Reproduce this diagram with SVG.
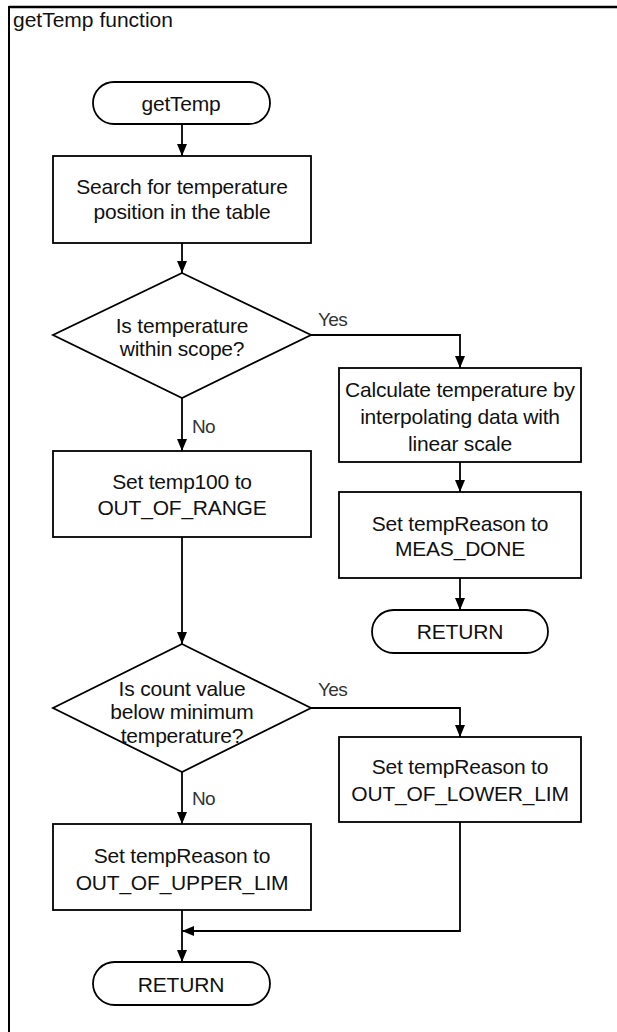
<svg xmlns="http://www.w3.org/2000/svg" width="617" height="1032" viewBox="0 0 617 1032">
<defs>
<marker id="arr" viewBox="0 0 12 12" refX="12" refY="6" markerWidth="12" markerHeight="12" markerUnits="userSpaceOnUse" orient="auto">
<path d="M0,1 L12,6 L0,11 Z" fill="#000"/>
</marker>
<style>
.sh{fill:#fff;stroke:#000;stroke-width:1.8}
.t{font-family:"Liberation Sans",Arial,sans-serif;font-size:21px;fill:#111;text-anchor:middle;dominant-baseline:central;letter-spacing:-0.2px}
.lb{font-family:"Liberation Sans",Arial,sans-serif;font-size:19px;fill:#333;letter-spacing:-0.6px}
.c{fill:none;stroke:#000;stroke-width:1.8}
</style>
</defs>
<rect x="0" y="0" width="617" height="1032" fill="#fff"/>
<rect x="9" y="7" width="640" height="1060" fill="none" stroke="#000" stroke-width="2"/>
<line x1="9" y1="7" x2="617" y2="7" stroke="#000" stroke-width="2.5"/>
<text x="13" y="27" font-family="Liberation Sans, Arial, sans-serif" font-size="21" fill="#111">getTemp  function</text>

<g id="connectors">
<line class="c" x1="182" y1="124" x2="182" y2="156" marker-end="url(#arr)"/>
<line class="c" x1="182" y1="243" x2="182" y2="273" marker-end="url(#arr)"/>
<polyline class="c" points="311,335 460,335 460,368" marker-end="url(#arr)"/>
<line class="c" x1="182" y1="398" x2="182" y2="451" marker-end="url(#arr)"/>
<line class="c" x1="460" y1="462" x2="460" y2="492" marker-end="url(#arr)"/>
<line class="c" x1="460" y1="578" x2="460" y2="610" marker-end="url(#arr)"/>
<line class="c" x1="182" y1="537" x2="182" y2="644" marker-end="url(#arr)"/>
<polyline class="c" points="311,708 460,708 460,737" marker-end="url(#arr)"/>
<line class="c" x1="182" y1="772" x2="182" y2="824" marker-end="url(#arr)"/>
<polyline class="c" points="460,822 460,931 182,931" marker-end="url(#arr)"/>
<line class="c" x1="182" y1="910" x2="182" y2="962" marker-end="url(#arr)"/>
<text class="lb" x="318" y="326">Yes</text>
<text class="lb" x="192" y="433">No</text>
<text class="lb" x="318" y="696">Yes</text>
<text class="lb" x="192" y="805">No</text>
</g>

<g id="start">
<rect class="sh" x="93" y="82" width="177" height="42" rx="21"/>
<text class="t" x="181" y="103">getTemp</text>
</g>
<g id="search">
<rect class="sh" x="53" y="156" width="258" height="87"/>
<text class="t" x="182" y="186">Search for temperature</text>
<text class="t" x="182" y="211">position in the table</text>
</g>
<g id="check1">
<polygon class="sh" points="182,273 311,335 182,398 53,335"/>
<text class="t" x="182" y="325">Is temperature</text>
<text class="t" x="182" y="348">within scope?</text>
</g>
<g id="calc">
<rect class="sh" x="339" y="368" width="242" height="94"/>
<text class="t" x="460" y="389">Calculate temperature by</text>
<text class="t" x="460" y="416">interpolating data with</text>
<text class="t" x="460" y="443">linear scale</text>
</g>
<g id="measdone">
<rect class="sh" x="339" y="492" width="242" height="86"/>
<text class="t" x="460" y="523">Set tempReason to</text>
<text class="t" x="460" y="548">MEAS_DONE</text>
</g>
<g id="return1">
<rect class="sh" x="372" y="610" width="176" height="43" rx="21.5"/>
<text class="t" x="460" y="631">RETURN</text>
</g>
<g id="outofrange">
<rect class="sh" x="53" y="451" width="258" height="86"/>
<text class="t" x="182" y="481">Set temp100 to</text>
<text class="t" x="182" y="507">OUT_OF_RANGE</text>
</g>
<g id="check2">
<polygon class="sh" points="182,644 311,708 182,772 53,708"/>
<text class="t" x="182" y="688">Is count value</text>
<text class="t" x="182" y="711">below minimum</text>
<text class="t" x="182" y="735">temperature?</text>
</g>
<g id="lower">
<rect class="sh" x="339" y="737" width="242" height="85"/>
<text class="t" x="460" y="766">Set tempReason to</text>
<text class="t" x="460" y="793">OUT_OF_LOWER_LIM</text>
</g>
<g id="upper">
<rect class="sh" x="53" y="824" width="258" height="86"/>
<text class="t" x="182" y="855">Set tempReason to</text>
<text class="t" x="182" y="882">OUT_OF_UPPER_LIM</text>
</g>
<g id="return2">
<rect class="sh" x="93" y="962" width="177" height="43" rx="21.5"/>
<text class="t" x="181" y="984">RETURN</text>
</g>
</svg>
